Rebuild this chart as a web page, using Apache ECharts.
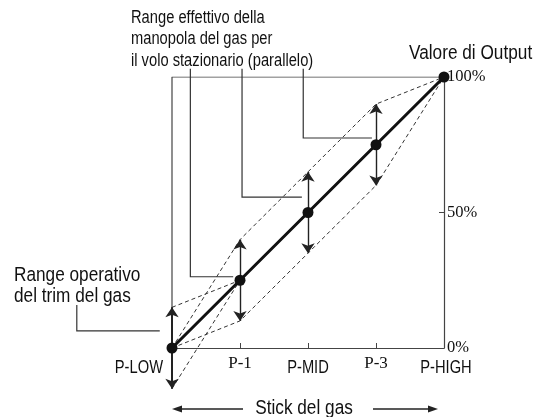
<!DOCTYPE html>
<html>
<head>
<meta charset="utf-8">
<script src="https://cdn.jsdelivr.net/npm/echarts@6/dist/echarts.min.js"></script>
<style>
  html, body { margin: 0; padding: 0; background: #fff; }
  #chart { width: 534px; height: 417px; }
</style>
</head>
<body>
<div id="chart"></div>
<script>
// stick positions and their labels
const stickPos = [0, 1, 2, 3, 4]
const tickLabels = ['P-LOW', 'P-1', 'P-MID', 'P-3', 'P-HIGH']
// output value (%) of the standard curve
const output = [0, 25, 50, 75, 100]
// hover knob range (parallel shift of the middle points)
const hoverUp = [0, 40, 65, 90, 100]
const hoverDown = [0, 10, 35, 60, 100]
// throttle trim range at P-LOW
const trimTop = [15, 25]
const trimBottom = [-15, 25]
const trimRange = [-15, 15]

// callout leader lines (data coordinates)
const leaders = [
  [[0.27, 103], [0.27, 26.3], [0.9, 26.3]],
  [[1.03, 103], [1.03, 55.7], [1.91, 55.7]],
  [[1.93, 103], [1.93, 77.5], [2.94, 77.5]],
  [[-1.4, 15.9], [-1.4, 6.3], [-0.18, 6.3]]
]

const SANS = '"Liberation Sans", Arial, sans-serif'
const SERIF = '"Liberation Serif", "Times New Roman", serif'
const INK = '#111'
const NARROW = 0.84 // squeeze the sans text like a condensed face

const pair = (xs, ys) => xs.map((x, i) => [x, ys[i]])

// vertical adjustment arrows
const arrows = []
arrows.push({ coords: [[0, output[0]], [0, trimRange[1]]], lineStyle: { width: 2 } })
arrows.push({ coords: [[0, output[0]], [0, trimRange[0]]], lineStyle: { width: 2 } })
for (let i = 1; i <= 3; i++) {
  arrows.push({ coords: [[stickPos[i], output[i]], [stickPos[i], hoverUp[i]]] })
  arrows.push({ coords: [[stickPos[i], output[i]], [stickPos[i], hoverDown[i]]] })
}

const dashed = (name, data) => ({
  name,
  type: 'line',
  data,
  symbol: 'none',
  silent: true,
  clip: false,
  z: 2,
  lineStyle: { color: '#333', width: 1, type: [4, 3] }
})

const label = (text, x, y, size, align, vAlign, lineHeight) => ({
  type: 'text',
  x,
  y,
  scaleX: NARROW,
  style: {
    text,
    font: size + 'px ' + SANS,
    lineHeight: lineHeight || size + 1,
    fill: INK,
    align: align || 'left',
    verticalAlign: vAlign || 'top'
  }
})

const chart = echarts.init(document.getElementById('chart'))
const option = {
  animation: false,
  grid: { left: 172, right: 90, top: 77, bottom: 69 },
  xAxis: {
    type: 'value',
    min: 0,
    max: 4,
    interval: 1,
    splitLine: { show: false },
    axisLine: { onZero: false, lineStyle: { color: '#444', width: 1.2 } },
    axisTick: { inside: true, length: 5, lineStyle: { color: '#444' } },
    axisLabel: { show: false }
  },
  yAxis: {
    type: 'value',
    position: 'right',
    min: 0,
    max: 100,
    interval: 50,
    splitLine: { show: false },
    axisLine: { show: true, onZero: false, lineStyle: { color: '#444', width: 1.2 } },
    axisTick: { show: true, inside: true, length: 5, lineStyle: { color: '#444' } },
    axisLabel: {
      margin: 3,
      fontFamily: SERIF,
      fontSize: 16.5,
      color: INK,
      formatter: '{value}%'
    }
  },
  series: [
    {
      name: 'frame',
      type: 'line',
      data: [[0, 0], [0, 100], [4, 100]],
      symbol: 'none',
      silent: true,
      z: 1,
      lineStyle: { color: '#444', width: 1.2 }
    },
    dashed('hoverUp', pair(stickPos, hoverUp)),
    dashed('hoverDown', pair(stickPos, hoverDown)),
    dashed('trimTop', pair([0, 1], trimTop)),
    dashed('trimBottom', pair([0, 1], trimBottom)),
    {
      name: 'leaders',
      type: 'lines',
      coordinateSystem: 'cartesian2d',
      polyline: true,
      silent: true,
      clip: false,
      z: 3,
      data: leaders.map(c => ({ coords: c })),
      lineStyle: { color: '#333', width: 1.2, opacity: 1 }
    },
    {
      name: 'arrows',
      type: 'lines',
      coordinateSystem: 'cartesian2d',
      silent: true,
      clip: false,
      z: 4,
      symbol: ['none', 'arrow'],
      symbolSize: [0, 10],
      data: arrows,
      lineStyle: { color: '#222', width: 1.4, opacity: 1 }
    },
    {
      name: 'output',
      type: 'line',
      data: pair(stickPos, output),
      symbol: 'circle',
      symbolSize: 11,
      clip: false,
      z: 5,
      itemStyle: { color: '#111' },
      lineStyle: { color: '#111', width: 3 }
    }
  ]
}
chart.setOption(option)

// stick labels placed through the x scale
const graphics = []
stickPos.forEach((v, i) => {
  const p = chart.convertToPixel({ gridIndex: 0 }, [v, 0])
  const t = tickLabels[i]
  if (t === 'P-1' || t === 'P-3') {
    graphics.push({
      type: 'text',
      x: p[0],
      y: p[1] + 16,
      style: { text: t, font: '17px ' + SERIF, fill: INK, align: 'center', verticalAlign: 'middle' }
    })
  } else if (i === 0) {
    graphics.push(label(t, p[0] - 9, p[1] + 20, 17.5, 'right', 'middle'))
  } else {
    graphics.push(label(t, p[0] + (i === 4 ? 2 : 0), p[1] + 20, 17.5, 'center', 'middle'))
  }
})

graphics.push(
  label('Range effettivo della\nmanopola del gas per\nil volo stazionario (parallelo)', 131, 7, 17.5, 'left', 'top', 21.5),
  label('Valore di Output', 409, 43, 20.5),
  label('Range operativo\ndel trim del gas', 14, 265, 20.5, 'left', 'top', 21),
  label('Stick del gas', 304, 408, 20.5, 'center', 'middle'),
  { type: 'line', shape: { x1: 181, y1: 409, x2: 243, y2: 409 }, style: { stroke: '#222', lineWidth: 1.4 } },
  { type: 'polygon', shape: { points: [[172, 409], [182, 405.5], [182, 412.5]] }, style: { fill: '#222' } },
  { type: 'line', shape: { x1: 373, y1: 409, x2: 429, y2: 409 }, style: { stroke: '#222', lineWidth: 1.4 } },
  { type: 'polygon', shape: { points: [[438, 409], [428, 405.5], [428, 412.5]] }, style: { fill: '#222' } }
)

chart.setOption({ graphic: graphics })
</script>
</body>
</html>
